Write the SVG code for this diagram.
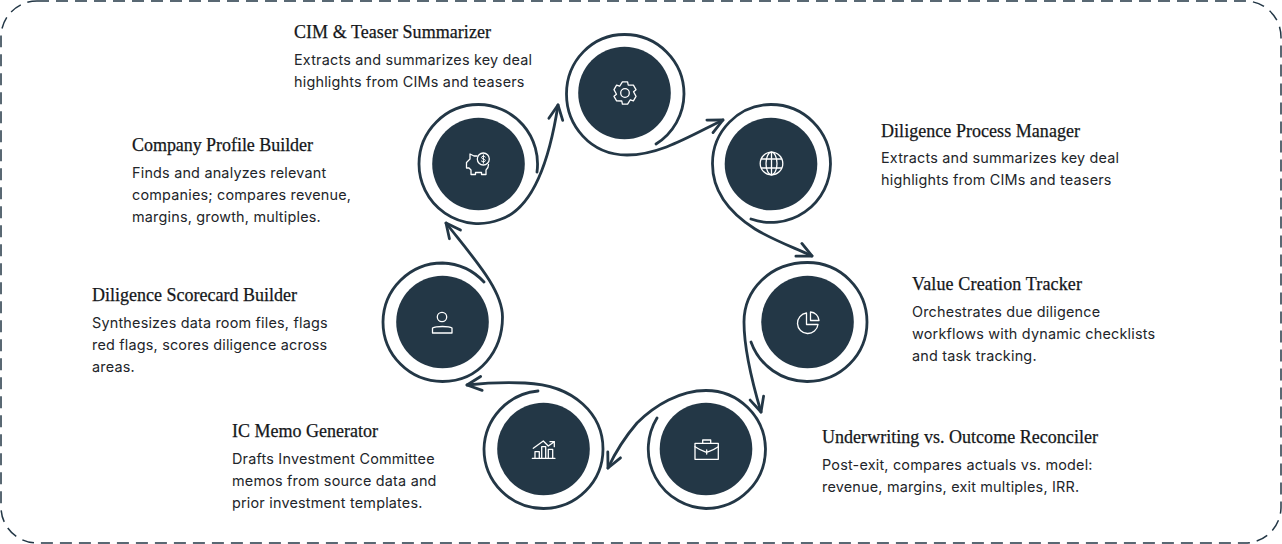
<svg xmlns="http://www.w3.org/2000/svg" width="1282" height="544" viewBox="0 0 1282 544">
<style>
.disc{fill:#233746}
.ico{fill:none;stroke:#fff;stroke-width:1.3;stroke-linejoin:round;stroke-linecap:round}
.flow{fill:none;stroke:#233746;stroke-width:2.8;stroke-linecap:round;stroke-linejoin:round;marker-end:url(#head)}
.title{font-family:"Liberation Serif",serif;font-size:18px;fill:#15171a;stroke:#15171a;stroke-width:.25px}
.body{font-family:Inter,"Liberation Sans",sans-serif;font-size:14.4px;letter-spacing:.2px;fill:#22252a}
</style>
<defs>
<marker id="head" markerUnits="userSpaceOnUse" markerWidth="24" markerHeight="24" refX="18" refY="12" orient="auto" overflow="visible">
<path d="M3.5 5L18 12L3.5 19" fill="none" stroke="#233746" stroke-width="2.8" stroke-linecap="round" stroke-linejoin="round"/>
</marker>
</defs>
<rect x="1" y="1" width="1280" height="542" rx="36" fill="#fff" stroke="#233746" stroke-width="1.5" stroke-dasharray="12 7"/>
<g id="connectors">
<path class="flow" d="M656 144A59.5 59.5 0 0 0 684 94A59.5 59.5 0 0 0 624.5 34.5C592 34.5 566.5 61 566.5 94C566.5 125 590 155 627 155C660 155 690 136 723 120"/>
<path class="flow" d="M751 219A59.5 59.5 0 0 0 830.5 164A59.5 59.5 0 0 0 771 104.5A59 59 0 0 0 712.5 164C712.5 195 733 215 755 229C773 240 795 248 812 256"/>
<path class="flow" d="M751 342A59.5 59.5 0 0 0 807.5 381.5A59.5 59.5 0 0 0 867 322A59.5 59.5 0 0 0 807.5 262.5C770 262.5 744 290 744 322C744 350 753 385 761 412"/>
<path class="flow" d="M657 418A59.5 59.5 0 0 0 706 508.5A59.5 59.5 0 0 0 765.5 449A59.5 59.5 0 0 0 706 390.5C680 390.5 655 405 637 423C625 437 615 453 608 468"/>
<path class="flow" d="M538 391A59.5 59.5 0 0 0 484 449A59.5 59.5 0 0 0 543.5 508.5A59.5 59.5 0 0 0 603 449C603 415 575 385 525 383C505 382 485 383 467 385"/>
<path class="flow" d="M484 282A59.5 59.5 0 0 0 442.5 263A59.5 59.5 0 0 0 383 322A59.5 59.5 0 0 0 442.5 381.5C480 381.5 502.5 350 502.5 317C502.5 290 475 260 446 223"/>
<path class="flow" d="M537 172A59.5 59.5 0 0 0 478.5 104.5A59.5 59.5 0 0 0 419 164A59.5 59.5 0 0 0 500 219.5C530 210 548 170 558 105"/>
</g>
<g id="node-cim">
<circle class="disc" cx="624.5" cy="93" r="46.3"/>
<g class="ico" transform="translate(625 93)"><path d="M-2.6 -11.2L2.6 -11.2L3.2 -8L8.4 -7.85L11 -3.35L8.53 -1.23L11 3.35L8.4 7.85L5.33 6.77L2.6 11.2L-2.6 11.2L-3.2 8L-8.4 7.85L-11 3.35L-8.53 1.23L-11 -3.35L-8.4 -7.85L-5.33 -6.77Z"/><circle r="4.3"/></g>
<text class="title" x="294" y="38" textLength="197">CIM &amp; Teaser Summarizer</text>
<text class="body" x="294" y="65">Extracts and summarizes key deal</text>
<text class="body" x="294" y="87">highlights from CIMs and teasers</text>
</g>
<g id="node-diligence-process">
<circle class="disc" cx="771" cy="164" r="46.3"/>
<g class="ico" transform="translate(771.5 163.5)"><circle r="11.3"/><ellipse rx="5.5" ry="11.3"/><path d="M0 -11.3V11.3M-10 -4.5H10M-10 4.5H10"/></g>
<text class="title" x="881" y="137" textLength="199">Diligence Process Manager</text>
<text class="body" x="881" y="163">Extracts and summarizes key deal</text>
<text class="body" x="881" y="185">highlights from CIMs and teasers</text>
</g>
<g id="node-value-creation">
<circle class="disc" cx="807.5" cy="322" r="46.3"/>
<g class="ico"><path d="M806.5 313A10.3 10.3 0 1 0 818 324.5H806.5Z"/><path d="M810.5 312A9 9 0 0 1 819 320.5H810.5Z"/></g>
<text class="title" x="912" y="290" textLength="170">Value Creation Tracker</text>
<text class="body" x="912" y="317">Orchestrates due diligence</text>
<text class="body" x="912" y="339">workflows with dynamic checklists</text>
<text class="body" x="912" y="361">and task tracking.</text>
</g>
<g id="node-underwriting">
<circle class="disc" cx="706" cy="449" r="46.3"/>
<g class="ico"><rect x="695" y="443.3" width="23.3" height="16"/><path d="M702.7 443.3V440H710.7V443.3M695 446.7C700 450 703 451 706.7 452.5C710 451 713.5 450 718.3 446.7M706.7 450V454"/></g>
<text class="title" x="822" y="443" textLength="276">Underwriting vs. Outcome Reconciler</text>
<text class="body" x="822" y="470">Post-exit, compares actuals vs. model:</text>
<text class="body" x="822" y="492">revenue, margins, exit multiples, IRR.</text>
</g>
<g id="node-ic-memo">
<circle class="disc" cx="543.5" cy="449" r="46.3"/>
<g class="ico"><path d="M532.3 458.3H555M535 458.3V451.7H539.3V458.3M541.7 458.3V446.7H545.7V458.3M548.3 458.3V449.3H552.7V458.3M533.3 448.3L543.3 441L548.3 446L554.3 441.7M550 441.7H554.3V446.7"/></g>
<text class="title" x="232" y="437" textLength="146">IC Memo Generator</text>
<text class="body" x="232" y="464">Drafts Investment Committee</text>
<text class="body" x="232" y="486">memos from source data and</text>
<text class="body" x="232" y="508">prior investment templates.</text>
</g>
<g id="node-scorecard">
<circle class="disc" cx="442.5" cy="322" r="46.3"/>
<g class="ico"><circle cx="442" cy="317" r="4.7"/><path d="M432.5 333V328C436 326 449 326 452 328V333Z"/></g>
<text class="title" x="92" y="301" textLength="205">Diligence Scorecard Builder</text>
<text class="body" x="92" y="328">Synthesizes data room files, flags</text>
<text class="body" x="92" y="350">red flags, scores diligence across</text>
<text class="body" x="92" y="372">areas.</text>
</g>
<g id="node-company-profile">
<circle class="disc" cx="478.5" cy="164" r="46.3"/>
<g class="ico"><circle cx="483.3" cy="159" r="6"/><path d="M477 156H474L470 154V159L466.5 162.5V168H469L471 170V174.5H475.5V172.5H481.5V174.5H486V170C488 168.5 488.5 167 488.5 164.5"/><path d="M485.3 157C484.5 155.8 481.5 155.8 481.5 157.6C481.5 159.3 485.3 158.7 485.3 160.5C485.3 162.3 482 162.2 481.3 161M483.4 154.8V163.2" stroke-width="1"/></g>
<text class="title" x="132" y="151" textLength="181">Company Profile Builder</text>
<text class="body" x="132" y="178">Finds and analyzes relevant</text>
<text class="body" x="132" y="200">companies; compares revenue,</text>
<text class="body" x="132" y="222">margins, growth, multiples.</text>
</g>
</svg>
